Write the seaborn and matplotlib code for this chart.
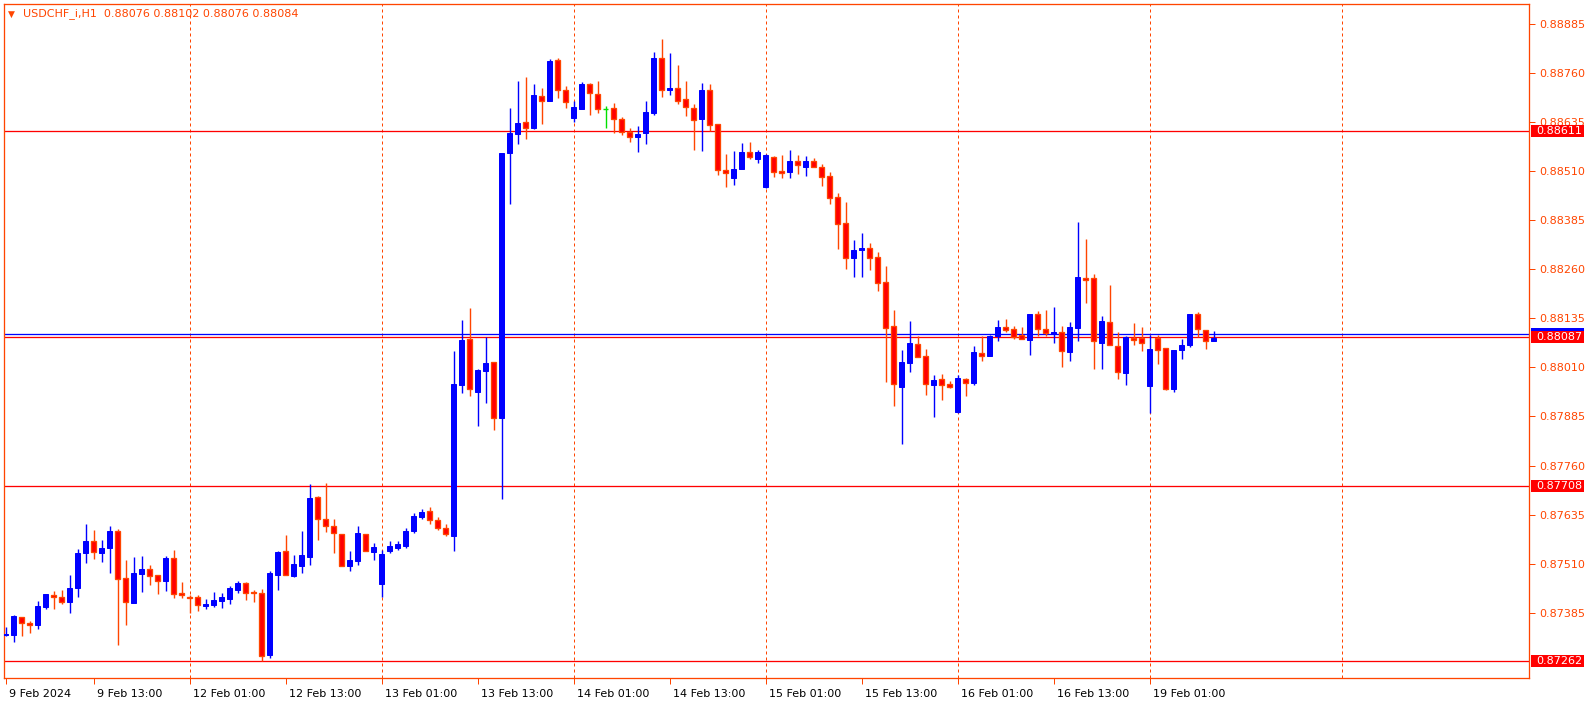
import numpy as np
import pandas as pd
import matplotlib
matplotlib.use('Agg')
import matplotlib.pyplot as plt
import matplotlib.transforms as mtransforms
from matplotlib.patches import Rectangle
import seaborn as sns

# USDCHF_i H1 bars
opens = [0.87329, 0.87328, 0.87374, 0.87358, 0.87354, 0.87400, 0.87429, 0.87424, 0.87413, 0.87449,
         0.87536, 0.87568, 0.87538, 0.87549, 0.87593, 0.87473, 0.87411, 0.87484, 0.87496, 0.87480,
         0.87467, 0.87524, 0.87435, 0.87424, 0.87425, 0.87402, 0.87405, 0.87416, 0.87420, 0.87444,
         0.87461, 0.87439, 0.87434, 0.87278, 0.87482, 0.87542, 0.87479, 0.87504, 0.87528, 0.87679,
         0.87625, 0.87606, 0.87585, 0.87505, 0.87517, 0.87585, 0.87540, 0.87457, 0.87542, 0.87550,
         0.87555, 0.87593, 0.87630, 0.87645, 0.87620, 0.87600, 0.87580, 0.87965, 0.88082, 0.87948,
         0.88002, 0.88023, 0.87880, 0.88557, 0.88604, 0.88634, 0.88621, 0.88701, 0.88689, 0.88792,
         0.88716, 0.88646, 0.88669, 0.88732, 0.88706, 0.88668, 0.88670, 0.88642, 0.88610, 0.88598,
         0.88608, 0.88659, 0.88798, 0.88717, 0.88721, 0.88693, 0.88670, 0.88642, 0.88717, 0.88629,
         0.88513, 0.88493, 0.88516, 0.88558, 0.88542, 0.88470, 0.88545, 0.88510, 0.88508, 0.88537,
         0.88521, 0.88537, 0.88520, 0.88497, 0.88443, 0.88377, 0.88288, 0.88310, 0.88313, 0.88291,
         0.88227, 0.88115, 0.87961, 0.88022, 0.88069, 0.88039, 0.87966, 0.87980, 0.87967, 0.87896,
         0.87980, 0.87971, 0.88047, 0.88040, 0.88091, 0.88112, 0.88108, 0.88092, 0.88080, 0.88145,
         0.88107, 0.88094, 0.88099, 0.88050, 0.88111, 0.88237, 0.88237, 0.88073, 0.88125, 0.88065,
         0.87996, 0.88086, 0.88086, 0.87963, 0.88086, 0.88059, 0.87956, 0.88054, 0.88067, 0.88146,
         0.88105, 0.88076]
highs = [0.87349, 0.87379, 0.87374, 0.87364, 0.87416, 0.87433, 0.87440, 0.87443, 0.87481, 0.87547,
         0.87611, 0.87596, 0.87570, 0.87607, 0.87598, 0.87519, 0.87528, 0.87530, 0.87507, 0.87480,
         0.87530, 0.87545, 0.87463, 0.87429, 0.87430, 0.87420, 0.87438, 0.87435, 0.87453, 0.87466,
         0.87463, 0.87444, 0.87445, 0.87491, 0.87542, 0.87583, 0.87532, 0.87593, 0.87713, 0.87682,
         0.87716, 0.87625, 0.87585, 0.87542, 0.87606, 0.87585, 0.87563, 0.87545, 0.87568, 0.87568,
         0.87600, 0.87640, 0.87650, 0.87655, 0.87628, 0.87610, 0.88052, 0.88131, 0.88161, 0.88005,
         0.88087, 0.88023, 0.88555, 0.88670, 0.88740, 0.88749, 0.88732, 0.88722, 0.88796, 0.88797,
         0.88727, 0.88689, 0.88737, 0.88735, 0.88740, 0.88676, 0.88684, 0.88647, 0.88619, 0.88624,
         0.88689, 0.88813, 0.88847, 0.88811, 0.88780, 0.88740, 0.88681, 0.88735, 0.88732, 0.88629,
         0.88554, 0.88562, 0.88582, 0.88584, 0.88564, 0.88554, 0.88548, 0.88551, 0.88564, 0.88551,
         0.88548, 0.88543, 0.88529, 0.88508, 0.88453, 0.88431, 0.88334, 0.88352, 0.88327, 0.88304,
         0.88268, 0.88156, 0.88054, 0.88128, 0.88090, 0.88057, 0.87991, 0.87993, 0.87975, 0.87990,
         0.87984, 0.88065, 0.88089, 0.88093, 0.88131, 0.88133, 0.88115, 0.88113, 0.88145, 0.88154,
         0.88156, 0.88164, 0.88115, 0.88126, 0.88380, 0.88337, 0.88248, 0.88141, 0.88220, 0.88099,
         0.88090, 0.88123, 0.88113, 0.88093, 0.88093, 0.88059, 0.88054, 0.88082, 0.88146, 0.88151,
         0.88105, 0.88102]
lows = [0.87326, 0.87311, 0.87326, 0.87334, 0.87343, 0.87394, 0.87395, 0.87407, 0.87385, 0.87426,
        0.87511, 0.87522, 0.87515, 0.87487, 0.87303, 0.87354, 0.87411, 0.87438, 0.87456, 0.87433,
        0.87440, 0.87423, 0.87423, 0.87385, 0.87390, 0.87395, 0.87400, 0.87398, 0.87408, 0.87434,
        0.87418, 0.87413, 0.87262, 0.87270, 0.87443, 0.87480, 0.87477, 0.87487, 0.87507, 0.87570,
        0.87591, 0.87538, 0.87505, 0.87492, 0.87507, 0.87542, 0.87519, 0.87426, 0.87537, 0.87545,
        0.87550, 0.87588, 0.87625, 0.87612, 0.87595, 0.87580, 0.87542, 0.87946, 0.87937, 0.87861,
        0.87920, 0.87851, 0.87675, 0.88426, 0.88578, 0.88591, 0.88616, 0.88631, 0.88689, 0.88697,
        0.88672, 0.88636, 0.88669, 0.88654, 0.88659, 0.88621, 0.88606, 0.88603, 0.88584, 0.88559,
        0.88580, 0.88654, 0.88700, 0.88705, 0.88682, 0.88651, 0.88565, 0.88560, 0.88611, 0.88500,
        0.88470, 0.88475, 0.88516, 0.88541, 0.88531, 0.88468, 0.88496, 0.88493, 0.88493, 0.88503,
        0.88498, 0.88520, 0.88473, 0.88427, 0.88312, 0.88261, 0.88241, 0.88241, 0.88259, 0.88205,
        0.87974, 0.87912, 0.87816, 0.87999, 0.88037, 0.87940, 0.87884, 0.87928, 0.87958, 0.87895,
        0.87938, 0.87965, 0.88025, 0.88040, 0.88078, 0.88099, 0.88083, 0.88082, 0.88042, 0.88091,
        0.88090, 0.88073, 0.88012, 0.88027, 0.88078, 0.88175, 0.88007, 0.88007, 0.88066, 0.87981,
        0.87965, 0.88067, 0.88052, 0.87895, 0.88019, 0.87953, 0.87948, 0.88031, 0.88063, 0.88087,
        0.88057, 0.88076]
closes = [0.87332, 0.87377, 0.87358, 0.87353, 0.87402, 0.87433, 0.87426, 0.87413, 0.87448, 0.87536,
          0.87568, 0.87540, 0.87550, 0.87593, 0.87470, 0.87412, 0.87487, 0.87496, 0.87479, 0.87467,
          0.87524, 0.87432, 0.87429, 0.87423, 0.87404, 0.87407, 0.87417, 0.87425, 0.87448, 0.87461,
          0.87436, 0.87434, 0.87275, 0.87485, 0.87540, 0.87480, 0.87508, 0.87532, 0.87677, 0.87625,
          0.87607, 0.87587, 0.87505, 0.87519, 0.87588, 0.87542, 0.87552, 0.87534, 0.87555, 0.87560,
          0.87593, 0.87632, 0.87642, 0.87620, 0.87600, 0.87585, 0.87967, 0.88080, 0.87954, 0.88003,
          0.88022, 0.87882, 0.88555, 0.88606, 0.88632, 0.88621, 0.88704, 0.88688, 0.88790, 0.88716,
          0.88685, 0.88673, 0.88732, 0.88708, 0.88668, 0.88668, 0.88642, 0.88609, 0.88596, 0.88604,
          0.88661, 0.88798, 0.88717, 0.88721, 0.88689, 0.88673, 0.88639, 0.88717, 0.88627, 0.88513,
          0.88505, 0.88515, 0.88559, 0.88545, 0.88558, 0.88551, 0.88508, 0.88506, 0.88537, 0.88525,
          0.88537, 0.88520, 0.88496, 0.88442, 0.88375, 0.88288, 0.88308, 0.88314, 0.88288, 0.88224,
          0.88110, 0.87967, 0.88023, 0.88072, 0.88037, 0.87967, 0.87978, 0.87964, 0.87961, 0.87983,
          0.87971, 0.88049, 0.88040, 0.88090, 0.88113, 0.88106, 0.88087, 0.88083, 0.88145, 0.88107,
          0.88098, 0.88099, 0.88051, 0.88113, 0.88240, 0.88233, 0.88076, 0.88127, 0.88066, 0.87998,
          0.88087, 0.88081, 0.88071, 0.88057, 0.88055, 0.87956, 0.88054, 0.88067, 0.88146, 0.88107,
          0.88076, 0.88084]

time_ticks = [0, 11, 23, 35, 47, 59, 71, 83, 95, 107, 119, 131, 143]
time_labels = ['9 Feb 2024', '9 Feb 13:00', '12 Feb 01:00', '12 Feb 13:00', '13 Feb 01:00',
               '13 Feb 13:00', '14 Feb 01:00', '14 Feb 13:00', '15 Feb 01:00', '15 Feb 13:00',
               '16 Feb 01:00', '16 Feb 13:00', '19 Feb 01:00']
day_grid = [23, 47, 71, 95, 119, 143, 167]
price_ticks = [0.88885, 0.88760, 0.88635, 0.88510, 0.88385, 0.88260, 0.88135,
               0.88010, 0.87885, 0.87760, 0.87635, 0.87510, 0.87385]
level_lines = [0.88611, 0.87708, 0.87262]
ask_line = 0.88095
bid_line = 0.88087
symbol = 'USDCHF_i,H1'

ORANGE = '#FF4500'
RED = '#FF0000'
BLUE = '#0000FF'
GREEN = '#00E000'
PX = 0.72  # one pixel in points

sns.set_theme(style='white')
plt.rcParams['font.family'] = ['DejaVu Sans']

df = pd.DataFrame({'o': opens, 'h': highs, 'l': lows, 'c': closes})
df['x'] = np.arange(len(df))
up = df[df.c > df.o]
down = df[df.c < df.o]
flat = df[df.c == df.o]

fig = plt.figure(figsize=(15.86, 7.08), dpi=100)
fig.patch.set_facecolor('white')
ax_w_px = 1525.3
ax = fig.add_axes([4 / 1586, 30 / 708, ax_w_px / 1586, 674 / 708])
ax.set_facecolor('white')
ax.set_xlim(-0.2125, 190.45)
ax.set_ylim(0.872187, 0.889357)
px_price = (0.889357 - 0.872187) / 674

# day separators
ax.vlines(day_grid, 0.872187, 0.889357, colors=ORANGE, linestyles=(0, (3, 3)), lw=PX, zorder=1)

# support / resistance lines
ax.hlines(level_lines, -1, 200, colors=RED, lw=PX * 1.3, zorder=2)
ax.axhline(ask_line, color=BLUE, lw=PX * 1.3, zorder=2)
ax.axhline(bid_line, color=RED, lw=PX * 1.3, zorder=2)

# candles
w = 0.62
ax.vlines(up.x, up.l, up.h, colors=BLUE, lw=PX * 1.4, zorder=3)
ax.bar(up.x, up.c - up.o, bottom=up.o, width=w, color=BLUE, edgecolor=BLUE, lw=PX, zorder=4)
ax.vlines(down.x, down.l, down.h, colors=ORANGE, lw=PX * 1.4, zorder=3)
ax.bar(down.x, down.o - down.c, bottom=down.c, width=w, color=RED, edgecolor=ORANGE,
       lw=PX * 1.3, zorder=4)
ax.vlines(flat.x, flat.l, flat.h, colors=GREEN, lw=PX * 1.4, zorder=3)
ax.hlines(flat.o, flat.x - w / 2, flat.x + w / 2, colors=GREEN, lw=PX * 1.4, zorder=4)

for s in ax.spines.values():
    s.set_color(ORANGE)
    s.set_linewidth(PX * 1.3)

# price axis on the right
ax.yaxis.tick_right()
ax.set_yticks(price_ticks)
ax.set_yticklabels([f'{p:.5f}' for p in price_ticks])
ax.tick_params(axis='y', colors=ORANGE, labelcolor=ORANGE, length=4, width=PX,
               labelsize=8, pad=3, right=True, left=False)

# time axis
ax.set_xticks(time_ticks)
ax.set_xticklabels(time_labels)
ax.tick_params(axis='x', colors=ORANGE, labelcolor='black', length=4, width=PX,
               labelsize=8, pad=4, bottom=True)
shift = mtransforms.ScaledTranslation(3 / 100, 0, fig.dpi_scale_trans)
for lbl in ax.get_xticklabels():
    lbl.set_ha('left')
    lbl.set_transform(lbl.get_transform() + shift)

# price labels of the horizontal lines
trans = mtransforms.blended_transform_factory(ax.transAxes, ax.transData)
txt_shift = mtransforms.ScaledTranslation(7 / 100, 0, fig.dpi_scale_trans)
box_x = 1.0 + 2 / ax_w_px
box_w = 53 / ax_w_px
box_h = 12 * px_price


def price_box(level, color, z, text=True):
    ax.add_patch(Rectangle((box_x, level - box_h / 2), box_w, box_h, transform=trans,
                           facecolor=color, edgecolor='none', clip_on=False, zorder=z))
    if text:
        ax.text(1.0, level, f'{level:.5f}', transform=trans + txt_shift, color='white',
                fontsize=8, va='center', ha='left', clip_on=False, zorder=z + 0.5)


for lev in level_lines:
    price_box(lev, RED, 10)
price_box(ask_line, BLUE, 10, text=False)
price_box(bid_line, RED, 12)

# symbol header
fig.text(8 / 1586, 1 - 14 / 708, '\u25BC', color=ORANGE, fontsize=6.5, va='center', ha='left')
fig.text(23 / 1586, 1 - 14 / 708,
         f'{symbol}  {opens[-1]:.5f} {highs[-1]:.5f} {lows[-1]:.5f} {closes[-1]:.5f}',
         color=ORANGE, fontsize=8, va='center', ha='left')

fig.savefig('out.png', dpi=100, facecolor='white')
